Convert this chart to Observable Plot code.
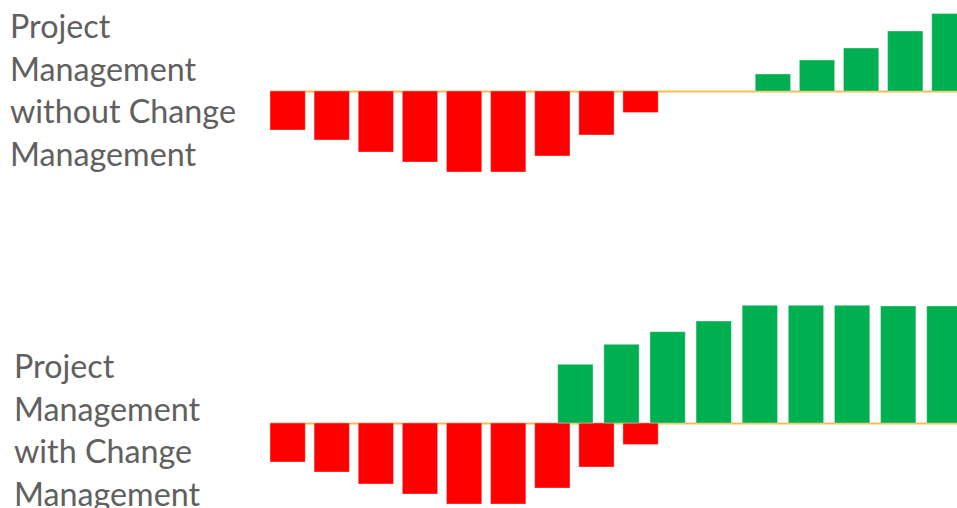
<!DOCTYPE html>
<html><head><meta charset="utf-8">
<script src="https://cdn.jsdelivr.net/npm/d3@7"></script>
<script src="https://cdn.jsdelivr.net/npm/@observablehq/plot@0.6"></script>
<style>
html,body{margin:0;padding:0;background:#fff;}
#wrap{position:relative;width:957px;height:508px;overflow:hidden;background:#fff;}
.lab{position:absolute;font-family:Lato,"Open Sans",sans-serif;color:#606060;line-height:42.5px;white-space:nowrap;}
.layer{position:absolute;left:0;}
</style></head><body><div id="wrap"></div>
<script>
// ---- data ----
const periods = [1,2,3,4,5,6,7,8,9,10,11,12,13,14,15,16];
const redPeriods = [1,2,3,4,5,6,7,8,9];
const redValues = [-3.9,-4.9,-6.1,-7.1,-8.1,-8.1,-6.5,-4.4,-2.15];
const topGreenPeriods = [12,13,14,15,16];
const topGreenValues = [1.7,3.1,4.3,6.0,7.75];
const bottomGreenPeriods = [1,2,3,4,5,6,7,8,9];
const bottomGreenValues = [5.87,7.87,9.13,10.2,11.77,11.77,11.77,11.7,11.7];
const topLabel = ["Project","Management","without Change","Management"];
const bottomLabel = ["Project","Management","with Change","Management"];

const RED = "#FF0000", GREEN = "#00B050", AXIS = "#F3BE52";
const red = redPeriods.map((p,i)=>({period:p, value:redValues[i]}));
const topGreen = topGreenPeriods.map((p,i)=>({period:p, value:topGreenValues[i]}));
const bottomGreen = bottomGreenPeriods.map((p,i)=>({period:p, value:bottomGreenValues[i]}));

const wrap = document.getElementById("wrap");
const svgStyle = {background:"none", maxWidth:"none", overflow:"visible"};
const barStroke = {stroke:"#ffffff", strokeOpacity:0.35, strokeWidth:1};

function place(el, top){ el.classList.add("layer"); el.style.top = top+"px"; wrap.appendChild(el); }

// top panel
place(Plot.plot({
  width:967, height:180, marginLeft:270, marginRight:0, marginTop:0, marginBottom:0,
  style:svgStyle,
  x:{type:"band", domain:periods, paddingInner:0.2, paddingOuter:0, round:false, axis:null},
  y:{domain:[-8.9,9.1], axis:null},
  marks:[
    Plot.ruleY([0],{stroke:AXIS, strokeWidth:2}),
    Plot.barY(red,{x:"period", y:"value", fill:RED, ...barStroke}),
    Plot.barY(topGreen,{x:"period", y:"value", fill:GREEN, ...barStroke})
  ]
}), 0);

// bottom panel: red + baseline
place(Plot.plot({
  width:967, height:218, marginLeft:270, marginRight:0, marginTop:0, marginBottom:0,
  style:svgStyle,
  x:{type:"band", domain:periods, paddingInner:0.2, paddingOuter:0, round:false, axis:null},
  y:{domain:[-8.5,13.3], axis:null},
  marks:[
    Plot.ruleY([0],{stroke:AXIS, strokeWidth:2}),
    Plot.barY(red,{x:"period", y:"value", fill:RED, ...barStroke})
  ]
}), 290);

// bottom panel: green overlay with its own spacing
place(Plot.plot({
  width:962, height:218, marginLeft:557.7, marginRight:0, marginTop:0, marginBottom:0,
  style:svgStyle,
  x:{type:"band", domain:bottomGreenPeriods, paddingInner:0.234, paddingOuter:0, round:false, axis:null},
  y:{domain:[-8.5,13.3], axis:null},
  marks:[
    Plot.barY(bottomGreen,{x:"period", y:"value", fill:GREEN, ...barStroke})
  ]
}), 290);

// labels
const ctx = document.createElement("canvas").getContext("2d");
ctx.font = "100px Lato";
const fs = 226*100/ctx.measureText("without Change").width;
function label(lines, left, top){
  const d = document.createElement("div");
  d.className = "lab";
  d.style.left = left+"px"; d.style.top = top+"px"; d.style.fontSize = fs+"px";
  lines.forEach(t=>{ const s=document.createElement("div"); s.textContent=t; d.appendChild(s); });
  wrap.appendChild(d);
}
label(topLabel, 10, 5);
label(bottomLabel, 14, 345);
</script>
</body></html>
